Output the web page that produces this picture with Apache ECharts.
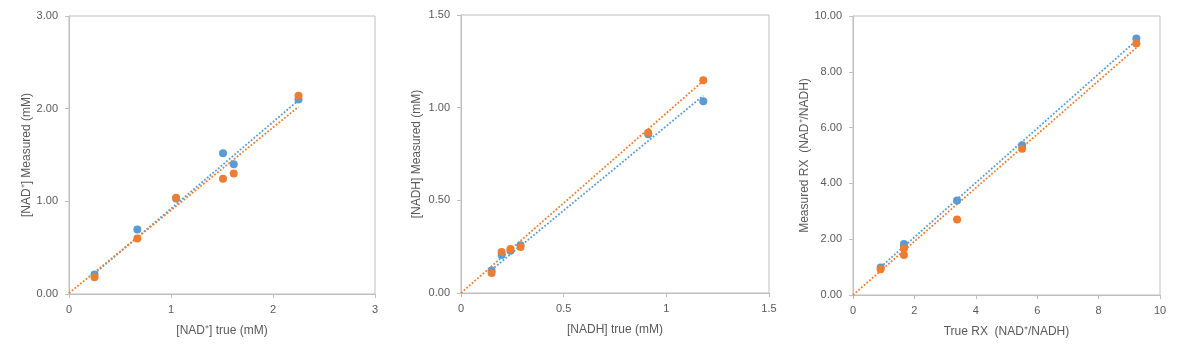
<!DOCTYPE html>
<html>
<head>
<meta charset="utf-8">
<script src="https://cdn.jsdelivr.net/npm/echarts@6/dist/echarts.min.js"></script>
<style>
html,body{margin:0;padding:0;background:#fff;}
#c{width:1192px;height:352px;}
</style>
</head>
<body>
<div id="c"></div>
<script>
// ---- data ----
const nadTrue    = [0.25, 0.67, 1.05, 1.51, 1.615, 2.25];
const nadBlue    = [0.21, 0.695, 1.03, 1.52, 1.40, 2.10];
const nadOrange  = [0.18, 0.60, 1.04, 1.245, 1.30, 2.14];
const nadTrendBlueX = [0.25, 2.25];
const nadTrendBlueY = [0.22, 2.09];
const nadTrendOrangeX = [0, 2.25];
const nadTrendOrangeY = [0.01, 2.02];

const nadhTrue   = [0.149, 0.198, 0.241, 0.29, 0.912, 1.18];
const nadhBlue   = [0.122, 0.205, 0.228, 0.257, 0.857, 1.034];
const nadhOrange = [0.108, 0.221, 0.237, 0.248, 0.865, 1.148];
const nadhTrendBlueX = [0.149, 1.18];
const nadhTrendBlueY = [0.125, 1.065];
const nadhTrendOrangeX = [0, 1.18];
const nadhTrendOrangeY = [0, 1.145];

const rxTrue     = [0.90, 1.66, 1.66, 3.39, 5.51, 9.23];
const rxBlue     = [0.99, 1.83, 1.72, 3.39, 5.37, 9.19];
const rxOrange   = [0.92, 1.67, 1.43, 2.71, 5.24, 9.01];
const rxTrendBlueX = [0.9, 9.23];
const rxTrendBlueY = [1.0, 9.12];
const rxTrendOrangeX = [0, 9.23];
const rxTrendOrangeY = [0, 8.86];

const xTitles = ['[NAD\u207A] true (mM)', '[NADH] true (mM)', 'True RX  (NAD\u207A/NADH)'];
const yTitles = ['[NAD\u207A] Measured (mM)', '[NADH] Measured (mM)', 'Measured RX  (NAD\u207A/NADH)'];
const xMax = [3, 1.5, 10], xStep = [1, 0.5, 2];
const yMax = [3, 1.5, 10], yStep = [1, 0.5, 2];

// ---- styling ----
const BLUE = '#5B9BD5', ORANGE = '#ED7D31';
const AX = '#BFBFBF', TXT = '#595959';
const FONT = 'Liberation Sans';
const grids = [
  {left: 69, top: 16, width: 306, height: 278},
  {left: 461, top: 15, width: 308, height: 278},
  {left: 853, top: 16, width: 307, height: 279}
];
const yGaps = [36, 38, 42];

function zip(a, b) { return a.map((v, i) => [v, b[i]]); }

const xAxis = [], yAxis = [];
for (let i = 0; i < 3; i++) {
  xAxis.push({
    type: 'value', gridIndex: i, min: 0, max: xMax[i], interval: xStep[i],
    name: xTitles[i], nameLocation: 'middle', nameGap: 31,
    nameTextStyle: {color: TXT, fontFamily: FONT, fontSize: 12},
    axisLine: {show: true, lineStyle: {color: AX}},
    axisTick: {show: true, length: 4, lineStyle: {color: AX}},
    axisLabel: {color: TXT, fontFamily: FONT, fontSize: 11, margin: 10},
    splitLine: {show: false}
  });
  yAxis.push({
    type: 'value', gridIndex: i, min: 0, max: yMax[i], interval: yStep[i],
    name: yTitles[i], nameLocation: 'middle', nameGap: yGaps[i], nameRotate: 90,
    nameTextStyle: {color: TXT, fontFamily: FONT, fontSize: 12},
    axisLine: {show: true, lineStyle: {color: AX}},
    axisTick: {show: true, length: 4, lineStyle: {color: AX}},
    axisLabel: {color: TXT, fontFamily: FONT, fontSize: 11, margin: 11,
      formatter: v => v.toFixed(2)},
    splitLine: {show: false}
  });
}

function trend(i, xs, ys, color) {
  return {type: 'line', xAxisIndex: i, yAxisIndex: i, data: zip(xs, ys),
    symbol: 'none', silent: true, z: 1,
    lineStyle: {color: color, width: 1.8, type: [1.8, 1.8]}};
}
function pts(i, xs, ys, color) {
  return {type: 'scatter', xAxisIndex: i, yAxisIndex: i, data: zip(xs, ys),
    symbolSize: 8, z: 2, itemStyle: {color: color, opacity: 1}};
}

const series = [
  trend(0, nadTrendBlueX, nadTrendBlueY, BLUE),
  trend(0, nadTrendOrangeX, nadTrendOrangeY, ORANGE),
  pts(0, nadTrue, nadBlue, BLUE),
  pts(0, nadTrue, nadOrange, ORANGE),
  trend(1, nadhTrendBlueX, nadhTrendBlueY, BLUE),
  trend(1, nadhTrendOrangeX, nadhTrendOrangeY, ORANGE),
  pts(1, nadhTrue, nadhBlue, BLUE),
  pts(1, nadhTrue, nadhOrange, ORANGE),
  trend(2, rxTrendBlueX, rxTrendBlueY, BLUE),
  trend(2, rxTrendOrangeX, rxTrendOrangeY, ORANGE),
  pts(2, rxTrue, rxBlue, BLUE),
  pts(2, rxTrue, rxOrange, ORANGE)
];

const chart = echarts.init(document.getElementById('c'), null, {renderer: 'canvas'});
chart.setOption({
  backgroundColor: '#ffffff',
  animation: false,
  grid: grids.map(g => Object.assign({show: true, borderColor: AX, borderWidth: 1, backgroundColor: 'transparent'}, g)),
  xAxis: xAxis,
  yAxis: yAxis,
  series: series
});
</script>
</body>
</html>
